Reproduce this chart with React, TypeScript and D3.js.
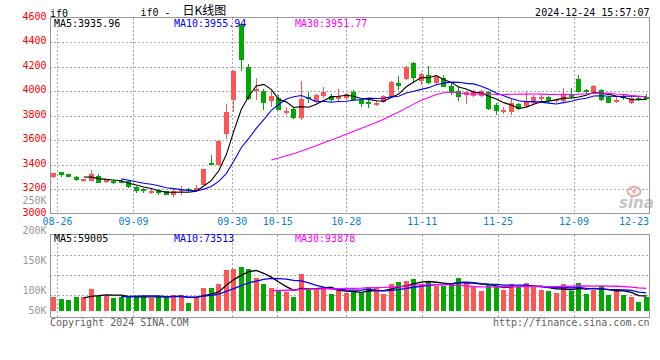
import React from "react";
import * as d3 from "d3";

const opens = [
  3295, 3336, 3320, 3300, 3267, 3267, 3308, 3257, 3262, 3262,
  3262, 3218, 3197, 3169, 3191, 3180, 3152, 3180, 3199, 3183,
  3234, 3415, 3396, 3650, 3928, 4546, 4194, 4000, 4002, 3920,
  3943, 3820, 3857, 3779, 3951, 3920, 3959, 3961, 3937, 3943,
  3989, 3923, 3912, 3888, 3910, 3948, 4062, 4095, 4230, 4079,
  4134, 4062, 4109, 4043, 4002, 3970, 3956, 3956, 3989, 3882,
  3825, 3825, 3896, 3874, 3902, 3937, 3948, 3915, 3915, 3970,
  4098, 4008, 3989, 4010, 3948, 3910, 3956, 3906, 3939, 3951,
];
const closes = [
  3328, 3311, 3300, 3273, 3279, 3322, 3248, 3270, 3246, 3250,
  3218, 3180, 3185, 3185, 3164, 3152, 3180, 3190, 3180, 3210,
  3363, 3398, 3595, 3830, 4166, 4257, 3937, 4013, 3898, 3961,
  3847, 3838, 3781, 3937, 3934, 3970, 3989, 3929, 3961, 3978,
  3929, 3894, 3896, 3906, 3961, 4074, 4038, 4194, 4103, 4139,
  4068, 4125, 4035, 3984, 3948, 3990, 3997, 4002, 3852, 3833,
  3841, 3902, 3857, 3910, 3948, 3948, 3920, 3923, 3970, 3951,
  3992, 3992, 4043, 3929, 3906, 3923, 3940, 3943, 3929, 3934,
];
const highs = [
  3330, 3341, 3325, 3308, 3284, 3355, 3320, 3279, 3273, 3270,
  3273, 3226, 3210, 3197, 3202, 3185, 3197, 3224, 3205, 3230,
  3366, 3480, 3601, 3896, 4175, 4557, 4224, 4110, 4016, 3997,
  3970, 3869, 3869, 4079, 3989, 3978, 4030, 3972, 4013, 3984,
  4010, 3934, 3934, 3929, 3970, 4079, 4120, 4202, 4238, 4148,
  4202, 4134, 4134, 4066, 4043, 3997, 4010, 4010, 3997, 3898,
  3869, 3935, 3906, 3997, 3970, 3970, 3961, 3934, 4024, 4024,
  4128, 4019, 4049, 4019, 3961, 3961, 3970, 3961, 3951, 3978,
];
const lows = [
  3293, 3300, 3295, 3262, 3259, 3263, 3246, 3248, 3240, 3245,
  3210, 3164, 3164, 3156, 3153, 3148, 3136, 3148, 3175, 3175,
  3230, 3393, 3390, 3607, 3825, 4161, 3929, 3928, 3841, 3866,
  3842, 3806, 3770, 3765, 3904, 3915, 3940, 3912, 3918, 3929,
  3915, 3869, 3858, 3880, 3902, 3943, 4005, 4090, 4066, 4052,
  4060, 4057, 4030, 3967, 3920, 3890, 3951, 3950, 3841, 3808,
  3814, 3801, 3847, 3866, 3895, 3902, 3906, 3906, 3906, 3934,
  3984, 3978, 3984, 3920, 3902, 3906, 3929, 3895, 3915, 3923,
];
const volumes = [
  62000, 52000, 48000, 62000, 62000, 96000, 65000, 65000, 58000, 62000,
  62000, 62000, 65000, 58000, 62000, 62000, 70000, 70000, 35000, 58000,
  102000, 102000, 118000, 179000, 184000, 192000, 183000, 145000, 118000, 100000,
  87000, 81000, 62000, 161000, 92000, 92000, 99000, 75000, 90000, 77000,
  84000, 80000, 105000, 100000, 75000, 118000, 126000, 131000, 139000, 116000,
  131000, 110000, 110000, 122000, 144000, 126000, 105000, 87000, 118000, 110000,
  92000, 118000, 103000, 122000, 105000, 92000, 87000, 78000, 118000, 87000,
  122000, 74000, 92000, 109000, 70000, 96000, 70000, 61000, 39000, 61000,
];

const tickLabels = ["08-26", "09-09", "09-30", "10-15", "10-28", "11-11", "11-25", "12-09", "12-23"];
const tickIndex = [1, 11, 24, 30, 39, 49, 59, 69, 79];
const priceTicks = [4600, 4400, 4200, 4000, 3800, 3600, 3400, 3200, 3000];
const volTickValues = [250000, 200000, 150000, 100000, 50000];
const volTickLabels = ["250K", "200K", "150K", "100K", "50K"];
const maPeriods = [5, 10, 30];
const maColors = ["#000000", "#0000ff", "#ff00ff"];
const priceMaLabels = ["MA5:3935.96", "MA10:3955.94", "MA30:3951.77"];
const volMaLabels = ["MA5:59005", "MA10:73513", "MA30:93878"];

const RED = "#ff5555";
const GREEN = "#00a800";
const MONO = "'DejaVu Sans Mono', 'Liberation Mono', monospace";

function movingAvg(arr: number[], n: number): (number | null)[] {
  return arr.map((_, i) => (i < n - 1 ? null : (d3.mean(arr.slice(i - n + 1, i + 1)) as number)));
}

export default function App() {
  const n = closes.length;
  const idx = d3.range(n);
  const L = 50, R = 650;
  const mainTop = 17.5, mainBot = 213.5;
  const volTop = 234.5, volBot = 317.5;

  const x = d3.scaleBand<number>().domain(idx).range([L, R]).paddingInner(0.27).paddingOuter(0.135);
  const bw = x.bandwidth();
  const xc = (i: number) => (x(i) as number) + bw / 2;
  const xg = d3.scalePoint<number>().domain(idx).range([L, R]);
  const y = d3.scaleLinear().domain([3000, 4600]).range([mainBot, mainTop]);
  const yv = d3.scaleLinear().domain([0, 333500]).range([311, volTop]);
  const volLabelY = d3.scaleLinear().domain([250000, 100000]).range([204, 293.5]);

  const line = d3
    .line<[number, number | null]>()
    .defined((d) => d[1] != null)
    .x((d) => xc(d[0]))
    .y((d) => d[1] as number);

  const priceMAs = maPeriods.map((p) => movingAvg(closes, p));
  const volMAs = maPeriods.map((p) => movingAvg(volumes, p));

  const gridX = tickIndex.map((i) => Math.floor(xg(i) as number) + 0.5).filter((gx) => gx < R - 1);
  const priceGrid = priceTicks.filter((t) => t > 3000 && t < 4600).map((t) => Math.round(y(t)) + 0.5);
  const volGrid = d3.range(1, 4).map((k) => Math.round(volTop + k * 20.3) + 0.5);

  const gridStyle = { stroke: "#aaaaaa", strokeWidth: 1, strokeDasharray: "2,2", shapeRendering: "crispEdges" as const };
  const frameStyle = { stroke: "#999999", strokeWidth: 1, fill: "none", shapeRendering: "crispEdges" as const };

  return (
    <svg width={660} height={360} style={{ position: "absolute", left: 0, top: 0, background: "#fff" }} fontFamily={MONO} fontSize={10}>
      <rect x={0} y={0} width={660} height={360} fill="#fff" />
      {/* header */}
      <text x={50} y={16.5} fill="#000">if0</text>
      <text x={140.5} y={15.5} fill="#000">if0 -</text>
      <text x={182.5} y={14.5} fill="#000" fontFamily="'Noto Sans CJK SC', sans-serif" fontSize={12}>日K线图</text>
      <text x={649.5} y={16} fill="#000" textAnchor="end">2024-12-24 15:57:07</text>

      {/* main grid */}
      {priceGrid.map((gy, k) => (
        <line key={"pg" + k} x1={L} x2={R} y1={gy} y2={gy} style={gridStyle} />
      ))}
      {gridX.map((gx, k) => (
        <line key={"xg" + k} x1={gx} x2={gx} y1={mainTop} y2={mainBot} style={gridStyle} />
      ))}
      {/* volume grid */}
      {volGrid.map((gy, k) => (
        <line key={"vg" + k} x1={L} x2={R} y1={gy} y2={gy} style={gridStyle} />
      ))}
      {gridX.map((gx, k) => (
        <line key={"vxg" + k} x1={gx} x2={gx} y1={volTop} y2={volBot} style={gridStyle} />
      ))}

      {/* sina watermark */}
      <g>
        <ellipse cx={634} cy={191.5} rx={6.5} ry={4.5} fill="none" stroke="#f0a8a8" strokeWidth={2} />
        <circle cx={634} cy={191.5} r={1.8} fill="#f0a8a8" />
        <text x={619} y={208} fill="#c4c4c4" fontFamily="'DejaVu Sans', sans-serif" fontStyle="italic" fontWeight="bold" fontSize={15}>sina</text>
      </g>

      {/* candles */}
      {idx.map((i) => {
        const up = closes[i] >= opens[i];
        const col = up ? RED : GREEN;
        const wx = Math.floor(xc(i)) + 0.5;
        const bx = Math.round(x(i) as number);
        const bwid = Math.round((x(i) as number) + bw) - bx;
        const top = Math.round(y(Math.max(opens[i], closes[i])));
        const bot = Math.round(y(Math.min(opens[i], closes[i])));
        return (
          <g key={"c" + i} shapeRendering="crispEdges">
            <line x1={wx} x2={wx} y1={y(highs[i])} y2={y(lows[i])} stroke={col} strokeWidth={1} />
            <rect x={bx} y={top} width={bwid} height={Math.max(1, bot - top)} fill={col} />
          </g>
        );
      })}
      {/* price MAs */}
      {priceMAs.map((ma, k) => (
        <path key={"pm" + k} d={line(ma.map((v, i) => [i, v == null ? null : y(v)]) as [number, number | null][]) || ""} fill="none" stroke={maColors[k]} strokeWidth={1.1} />
      ))}

      {/* volume bars */}
      {idx.map((i) => {
        const up = closes[i] >= opens[i];
        const bx = Math.round(x(i) as number);
        const bwid = Math.round((x(i) as number) + bw) - bx;
        const top = Math.round(yv(volumes[i]));
        const base = Math.round(yv(0));
        return <rect key={"v" + i} x={bx} y={top} width={bwid} height={base - top} fill={up ? RED : GREEN} shapeRendering="crispEdges" />;
      })}
      {volMAs.map((ma, k) => (
        <path key={"vm" + k} d={line(ma.map((v, i) => [i, v == null ? null : yv(v)]) as [number, number | null][]) || ""} fill="none" stroke={maColors[k]} strokeWidth={1.3} />
      ))}

      {/* frames */}
      <rect x={L + 0.5} y={mainTop} width={R - L - 1} height={mainBot - mainTop} style={frameStyle} />
      <rect x={L + 0.5} y={volTop} width={R - L - 1} height={volBot - volTop} style={frameStyle} />

      {/* MA labels */}
      {priceMaLabels.map((t, k) => (
        <text key={"pl" + k} x={[54, 174, 295][k]} y={26.5} fill={maColors[k]}>{t}</text>
      ))}
      {volMaLabels.map((t, k) => (
        <text key={"vl" + k} x={[54, 174, 295][k]} y={242} fill={maColors[k]}>{t}</text>
      ))}

      {/* price axis labels */}
      {priceTicks.map((t) => (
        <text key={"pt" + t} x={46.5} y={y(t) + 2.3} fill="#ff0000" textAnchor="end">{t}</text>
      ))}
      {/* volume axis labels */}
      {volTickValues.map((v, k) => (
        <text key={"vt" + k} x={46.5} y={Math.min(volLabelY(v), 314)} fill="#999999" textAnchor="end">{volTickLabels[k]}</text>
      ))}
      {/* date labels */}
      {tickIndex.map((ti, k) => (
        <text key={"dt" + k} x={Math.min(xg(ti) as number, R - 1 - 15)} y={225} fill="#0a7fd8" textAnchor="middle">{tickLabels[k]}</text>
      ))}

      {/* footer */}
      <text x={50} y={326} fill="#606060">Copyright 2024 SINA.COM</text>
      <text x={649.5} y={326} fill="#606060" textAnchor="end">http://finance.sina.com.cn</text>
    </svg>
  );
}
